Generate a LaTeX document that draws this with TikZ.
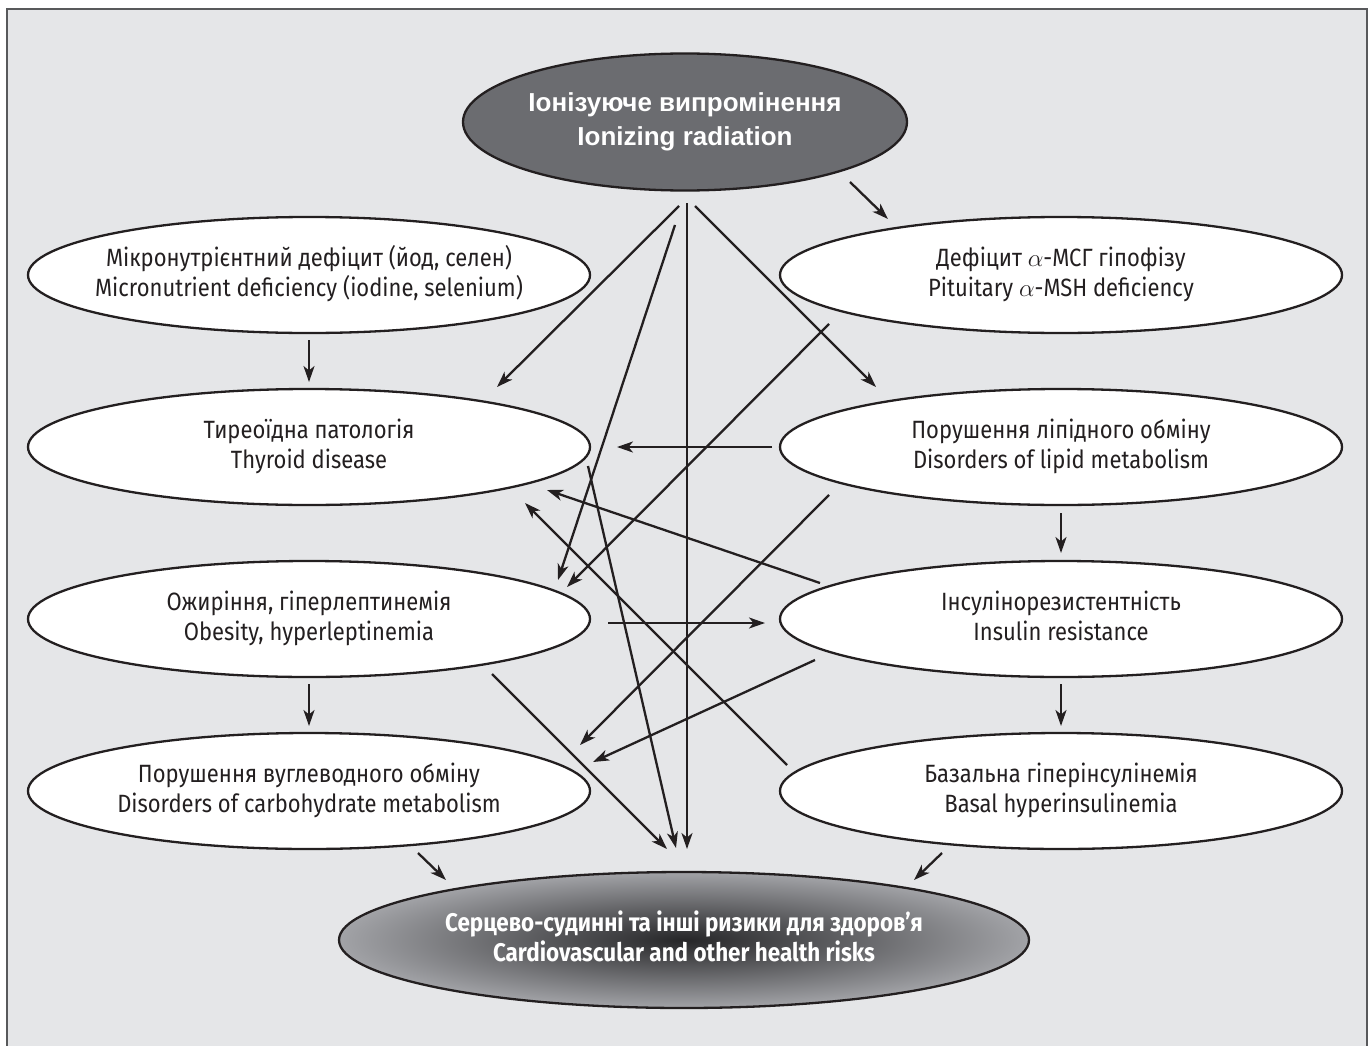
\documentclass[tikz,border=0pt]{standalone}
\usepackage{fontspec}
\setmainfont[FakeStretch=0.88]{Fira Sans}
\newfontfamily\headfont{Liberation Sans}
\usepackage{tikz}
\usetikzlibrary{arrows.meta,shapes.geometric,calc}
\definecolor{bgGray}{HTML}{E5E6E8}
\definecolor{frameGray}{HTML}{58595B}
\definecolor{topGray}{HTML}{6B6C70}
\definecolor{riskDark}{HTML}{262628}
\definecolor{riskLight}{HTML}{A2A3A7}
\definecolor{inkBlack}{HTML}{231F20}
\newcommand{\twoline}[2]{\makebox[0pt]{\begin{tabular}{@{}c@{}}#1\\#2\end{tabular}}}

\begin{document}
\begin{tikzpicture}[x=1pt,y=-1pt,>={Stealth[length=16pt,width=11pt,inset=4.5pt]},
  box/.style={ellipse,draw=inkBlack,line width=2.3pt,fill=white,inner sep=0pt,
    minimum width=562pt,minimum height=116pt,text=inkBlack,font=\fontsize{25}{30}\selectfont},
  topnode/.style={ellipse,draw=inkBlack,line width=2.3pt,fill=topGray,inner sep=0pt,
    minimum width=444pt,minimum height=137pt,text=white,font=\headfont\bfseries\fontsize{26}{34}\selectfont},
  risknode/.style={ellipse,draw=inkBlack,line width=2.3pt,shading=radial,inner color=riskDark,
    outer color=riskLight,inner sep=0pt,minimum width=690pt,minimum height=136pt,text=white,
    font=\bfseries\fontsize{25.5}{30}\selectfont},
  arr/.style={->,draw=inkBlack,line width=2.3pt}]
  \useasboundingbox (0,0) rectangle (1370,1046);
  \fill[white] (0,0) rectangle (1370,1046);
  \fill[bgGray] (7,9) rectangle (1367,1046);
  \draw[frameGray,line width=2pt] (7,1046) -- (7,9) -- (1367,9) -- (1367,1046);

  % source and outcome
  \node[topnode] (top) at (685,122) {\twoline{Іонізуюче випромінення}{Ionizing radiation}};
  \node[risknode] (risk) at (684,940) {\twoline{Серцево-судинні та інші ризики для здоров’я}{Cardiovascular and other health risks}};

  % left column
  \node[box] (micro) at (309,275) {\twoline{Мікронутрієнтний дефіцит (йод, селен)}{Micronutrient deficiency (iodine, selenium)}};
  \node[box] (thyr) at (309,447) {\twoline{Тиреоїдна патологія}{Thyroid disease}};
  \node[box] (obes) at (309,619) {\twoline{Ожиріння, гіперлептинемія}{Obesity, hyperleptinemia}};
  \node[box] (carb) at (309,791) {\twoline{Порушення вуглеводного обміну}{Disorders of carbohydrate metabolism}};

  % right column
  \node[box] (pit) at (1061,275) {\twoline{Дефіцит $\alpha$-МСГ гіпофізу}{Pituitary $\alpha$-MSH deficiency}};
  \node[box] (lip) at (1061,447) {\twoline{Порушення ліпідного обміну}{Disorders of lipid metabolism}};
  \node[box] (ins) at (1061,619) {\twoline{Інсулінорезистентність}{Insulin resistance}};
  \node[box] (bas) at (1061,791) {\twoline{Базальна гіперінсулінемія}{Basal hyperinsulinemia}};

  % links from radiation
  \draw[arr] ($(top)+(165,60)$) -- ($(pit)+(-173,-56)$);
  \draw[arr] ($(top)+(-6,84)$) -- ($(thyr)+(188,-60)$);
  \draw[arr] ($(top)+(2,81)$) -- ($(risk)+(3,-91)$);
  \draw[arr] ($(top)+(10,84)$) -- ($(lip)+(-185,-60)$);
  \draw[arr] ($(top)+(-10,103)$) -- ($(obes)+(249,-39)$);

  % vertical steps
  \draw[arr] ($(micro)+(0,65)$) -- ($(thyr)+(0,-65)$);
  \draw[arr] ($(obes)+(0,65)$) -- ($(carb)+(0,-65)$);
  \draw[arr] ($(lip)+(0,66)$) -- ($(ins)+(0,-66)$);
  \draw[arr] ($(ins)+(0,65)$) -- ($(bas)+(0,-65)$);

  % cross links
  \draw[arr] ($(pit)+(-232,49)$) -- ($(obes)+(258,-32)$);
  \draw[arr] ($(lip)+(-289,0)$) -- ($(thyr)+(308,0)$);
  \draw[arr] ($(thyr)+(279,19)$) -- ($(risk)+(-8,-92)$);
  \draw[arr] ($(lip)+(-232,48)$) -- ($(carb)+(271,-46)$);
  \draw[arr] ($(ins)+(-241,-36)$) -- ($(thyr)+(238,43)$);
  \draw[arr] ($(bas)+(-274,-26)$) -- ($(thyr)+(216,56)$);
  \draw[arr] ($(obes)+(299,4)$) -- ($(ins)+(-296,4)$);
  \draw[arr] ($(ins)+(-246,41)$) -- ($(carb)+(284,-29)$);
  \draw[arr] ($(obes)+(183,55)$) -- ($(risk)+(-17,-91)$);

  % into outcome
  \draw[arr] ($(carb)+(109,62)$) -- ($(risk)+(-238,-60)$);
  \draw[arr] ($(bas)+(-119,62)$) -- ($(risk)+(230,-60)$);
\end{tikzpicture}
\end{document}
